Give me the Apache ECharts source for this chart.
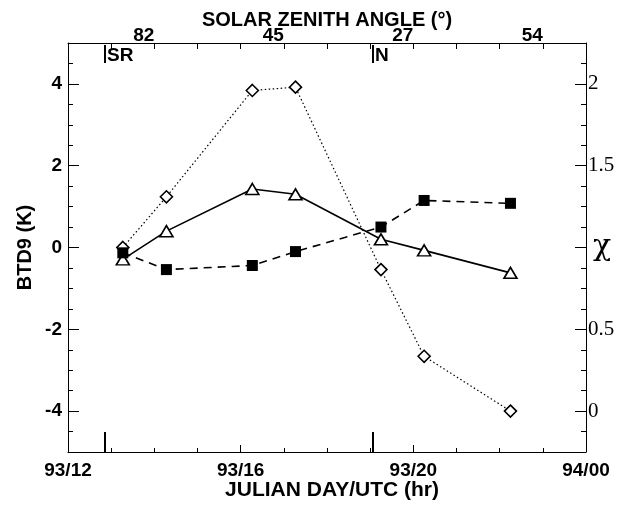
<!DOCTYPE html>
<html><head><meta charset="utf-8">
<script src="https://cdn.jsdelivr.net/npm/echarts@6/dist/echarts.min.js"></script>
<style>html,body{margin:0;padding:0;background:#fff}#chart{width:625px;height:508px}</style>
</head><body><div id="chart"></div>
<script>
// Observation times (hours UTC, Julian day 93)
const hours = [13.27, 14.28, 16.27, 17.27, 19.25, 20.25, 22.25];
// BTD9 (K) series
const btdTriangle = [-0.29, 0.40, 1.43, 1.30, 0.20, -0.07, -0.62];
const btdSquare = [-0.13, -0.54, -0.44, -0.10, 0.50, 1.15, 1.08];
// chi series (right axis)
const chiDiamond = [1.00, 1.31, 1.96, 1.98, 0.865, 0.335, 0.00];

const bottomLabels = {12: '93/12', 16: '93/16', 20: '93/20', 24: '94/00'};
const zenithHours = [14, 17, 20, 23];
const zenithLabels = ['82', '45', '27', '54'];
const btdTicks = [-4, -2, 0, 2, 4];
const chiTicks = [0, 0.5, 1, 1.5, 2];
const chiLabels = [0, 0.5, 1.5, 2];
// sunrise and local noon
const eventHours = [12.857, 19.065];
const eventNames = ['SR', 'N'];

const SANS = '"Liberation Sans", Arial, sans-serif';
const SERIF = '"Liberation Serif", "Times New Roman", serif';
const AX = {onZero: false, lineStyle: {color: '#000', width: 1}};

const pairs = v => hours.map((h, i) => [h, v[i]]);

const chart = echarts.init(document.getElementById('chart'), null, {renderer: 'canvas'});
chart.setOption({
  animation: false,
  backgroundColor: '#fff',
  grid: {left: 68, right: 39, top: 43, bottom: 56, containLabel: false, outerBoundsMode: 'none'},
  xAxis: [
    {
      type: 'value', min: 12, max: 24, interval: 4, position: 'bottom',
      axisLine: AX,
      axisTick: {inside: true, length: 7, lineStyle: {color: '#000'}},
      minorTick: {show: true, splitNumber: 4, length: 4, lineStyle: {color: '#000'}},
      splitLine: {show: false},
      axisLabel: {margin: 9, color: '#000', fontFamily: SANS, fontWeight: 'bold', fontSize: 19,
        formatter: v => bottomLabels[v] || ''},
      name: 'JULIAN DAY/UTC (hr)', nameLocation: 'middle', nameGap: 28, nameMoveOverlap: false,
      nameTextStyle: {color: '#000', fontFamily: SANS, fontWeight: 'bold', fontSize: 21, padding: [0, 0, 0, 10]}
    },
    {
      type: 'value', min: 12, max: 24, interval: 1, position: 'top',
      axisLine: AX,
      axisTick: {inside: true, length: 6, lineStyle: {color: '#000'}},
      splitLine: {show: false},
      axisLabel: {margin: -2, color: '#000', fontFamily: SANS, fontWeight: 'bold', fontSize: 19, align: 'right',
        formatter: v => { const i = zenithHours.indexOf(v); return i >= 0 ? zenithLabels[i] : ''; }},
      name: 'SOLAR ZENITH ANGLE (°)', nameLocation: 'middle', nameGap: 13, nameMoveOverlap: false,
      nameTextStyle: {color: '#000', fontFamily: SANS, fontWeight: 'bold', fontSize: 20}
    }
  ],
  yAxis: [
    {
      type: 'value', min: -5, max: 5, position: 'left',
      axisLine: AX,
      axisTick: {inside: true, length: 11, customValues: btdTicks, lineStyle: {color: '#000'}},
      splitLine: {show: false},
      axisLabel: {margin: 6, color: '#000', fontFamily: SANS, fontWeight: 'bold', fontSize: 19, customValues: btdTicks},
      name: 'BTD9 (K)', nameLocation: 'middle', nameGap: 33, nameRotate: 90, nameMoveOverlap: false,
      nameTextStyle: {color: '#000', fontFamily: SANS, fontWeight: 'bold', fontSize: 20}
    },
    {
      type: 'value', min: -0.25, max: 2.25, position: 'right',
      axisLine: AX,
      axisTick: {inside: true, length: 11, customValues: chiTicks, lineStyle: {color: '#000'}},
      splitLine: {show: false},
      axisLabel: {margin: 2, color: '#000', fontFamily: SERIF, fontSize: 21, customValues: chiLabels, padding: [0, 0, 8, 0]},
      name: 'χ', nameLocation: 'middle', nameGap: 7, nameRotate: 0, nameMoveOverlap: false,
      nameTextStyle: {color: '#000', fontFamily: '"DejaVu Serif", serif', fontSize: 30, align: 'left', verticalAlign: 'middle'}
    },
    {
      // minor ticks, left side
      type: 'value', min: -5, max: 5, interval: 0.5, position: 'left', offset: 0,
      axisLine: {show: false},
      axisTick: {inside: true, length: 5, lineStyle: {color: '#000'}},
      axisLabel: {show: false}, splitLine: {show: false}
    },
    {
      // minor ticks, right side
      type: 'value', min: -0.25, max: 2.25, interval: 0.125, position: 'right', offset: 0,
      axisLine: {show: false},
      axisTick: {inside: true, length: 5, lineStyle: {color: '#000'}},
      axisLabel: {show: false}, splitLine: {show: false}
    }
  ],
  series: [
    {
      type: 'line', name: 'chi', xAxisIndex: 0, yAxisIndex: 1, data: pairs(chiDiamond),
      symbol: 'diamond', symbolSize: [12, 12],
      lineStyle: {color: '#000', width: 1.2, type: [1.5, 2.5]},
      itemStyle: {color: '#fff', borderColor: '#000', borderWidth: 1.6}, z: 3
    },
    {
      type: 'line', name: 'triangle', xAxisIndex: 0, yAxisIndex: 0, data: pairs(btdTriangle),
      symbol: 'triangle', symbolSize: [13, 11],
      lineStyle: {color: '#000', width: 1.6, type: 'solid'},
      itemStyle: {color: '#fff', borderColor: '#000', borderWidth: 1.6}, z: 4
    },
    {
      type: 'line', name: 'square', xAxisIndex: 0, yAxisIndex: 0, data: pairs(btdSquare),
      symbol: 'rect', symbolSize: [11, 11],
      lineStyle: {color: '#000', width: 1.6, type: [8, 6]},
      itemStyle: {color: '#000', borderColor: '#000', borderWidth: 0}, z: 5
    },
    {
      type: 'custom', xAxisIndex: 0, yAxisIndex: 0, clip: false, silent: true,
      data: eventHours.map(h => [h, 0]),
      encode: {x: 0, y: 1},
      renderItem(params, api) {
        const h = api.value(0);
        const x = Math.round(api.coord([h, 0])[0]);
        const top = api.coord([h, 5])[1];
        const bot = api.coord([h, -5])[1];
        return {
          type: 'group',
          children: [
            {type: 'line', shape: {x1: x, y1: top + 2, x2: x, y2: top + 20}, style: {stroke: '#000', lineWidth: 2}},
            {type: 'line', shape: {x1: x, y1: bot - 20, x2: x, y2: bot}, style: {stroke: '#000', lineWidth: 2}},
            {type: 'text', x: x + 2, y: top + 3,
              style: {text: eventNames[params.dataIndex], fill: '#000', font: 'bold 19px ' + SANS, align: 'left', verticalAlign: 'top'}}
          ]
        };
      }
    }
  ]
});
</script>
</body></html>
